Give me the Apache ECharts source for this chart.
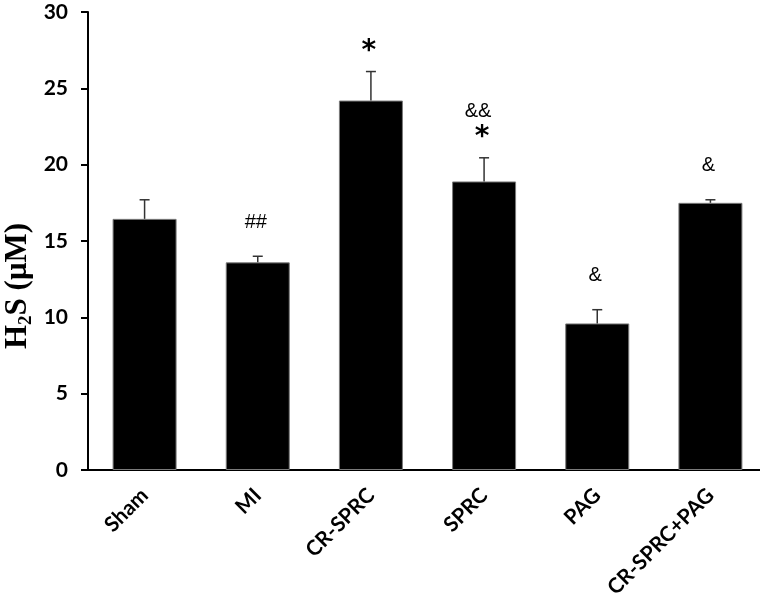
<!DOCTYPE html>
<html>
<head>
<meta charset="utf-8">
<script src="https://cdn.jsdelivr.net/npm/echarts@6/dist/echarts.min.js"></script>
<style>
  html, body { margin: 0; padding: 0; background: #fff; }
  #chart { width: 760px; height: 597px; }
</style>
</head>
<body>
<div id="chart"></div>
<script>
// 数据：H2S 浓度 (μM)，均值 + 误差
const groups = ['Sham', 'MI', 'CR-SPRC', 'SPRC', 'PAG', 'CR-SPRC+PAG'];
const means = [16.45, 13.6, 24.2, 18.9, 9.6, 17.5];
const errors = [1.25, 0.4, 1.9, 1.55, 0.9, 0.2];
// 显著性标记：下层（贴近误差线）和上层
const marksLow = ['', '##', '*', '*', '&', '&'];
const marksHigh = ['', '', '', '&&', '', ''];
const yTicks = { min: 0, max: 30, interval: 5 };

const chart = echarts.init(document.getElementById('chart'));

chart.setOption({
  animation: false,
  backgroundColor: '#fff',
  grid: { left: 88, right: -7, top: 12, bottom: 127, outerBoundsMode: 'none' },
  // y 轴标题（带下标）
  graphic: [{
    type: 'text',
    x: 18, y: 286,
    rotation: Math.PI / 2,
    style: {
      text: '{a|H}{b|2}{a|S (μM)}',
      align: 'center', verticalAlign: 'middle',
      rich: {
        a: { fontFamily: 'Liberation Serif', fontWeight: 'bold', fontSize: 31, fill: '#000', lineHeight: 36 },
        b: { fontFamily: 'Liberation Serif', fontWeight: 'bold', fontSize: 19, fill: '#000', lineHeight: 36, verticalAlign: 'bottom', padding: [13, 0, 0, 0] },
      },
    },
  }],
  xAxis: {
    type: 'category',
    data: groups,
    axisLine: { lineStyle: { color: '#000', width: 2 } },
    axisTick: { show: false },
    axisLabel: {
      rotate: 45, margin: 22, color: '#000',
      fontFamily: 'Lato', fontWeight: 'bold', fontSize: 21,
    },
  },
  yAxis: {
    type: 'value',
    min: yTicks.min, max: yTicks.max, interval: yTicks.interval,
    splitLine: { show: false },
    axisLine: { show: true, lineStyle: { color: '#000', width: 2 } },
    axisTick: { show: true, inside: false, length: 7, lineStyle: { color: '#000', width: 2 } },
    axisLabel: { color: '#000', fontFamily: 'Lato', fontWeight: 'bold', fontSize: 21, margin: 20 },
  },
  series: [
    {
      type: 'bar',
      data: means,
      barWidth: 64,
      itemStyle: { color: '#000', borderColor: '#7a7a7a', borderWidth: 1 },
      z: 2,
    },
    {
      type: 'custom',
      z: 3,
      data: means.map((m, i) => [i, m, errors[i]]),
      renderItem(params, api) {
        const i = api.value(0);
        const base = api.coord([i, api.value(1)]);
        const top = api.coord([i, api.value(1) + api.value(2)]);
        const x = base[0];
        const lineStyle = { stroke: '#333', lineWidth: 1.5 };
        const children = [
          { type: 'line', shape: { x1: x, y1: base[1], x2: x, y2: top[1] }, style: lineStyle },
          { type: 'line', shape: { x1: x - 5, y1: top[1], x2: x + 5, y2: top[1] }, style: lineStyle },
        ];
        const low = marksLow[i];
        if (low) {
          const isStar = low === '*';
          children.push({
            type: 'text',
            style: {
              text: low, x: x - 2, y: top[1] - (isStar ? 6 : 24),
              align: 'center', verticalAlign: 'bottom',
              fontFamily: isStar ? 'DejaVu Sans' : 'Liberation Sans',
              fontWeight: isStar ? 'bold' : 'normal',
              fontSize: isStar ? 28 : 20, fill: '#000',
            },
          });
        }
        const high = marksHigh[i];
        if (high) {
          children.push({
            type: 'text',
            style: {
              text: high, x: x - 6, y: top[1] - 36,
              align: 'center', verticalAlign: 'bottom',
              fontFamily: 'Liberation Sans', fontSize: 20, fill: '#000',
            },
          });
        }
        return { type: 'group', children };
      },
    },
  ],
});

window.addEventListener('resize', () => chart.resize());
</script>
</body>
</html>
